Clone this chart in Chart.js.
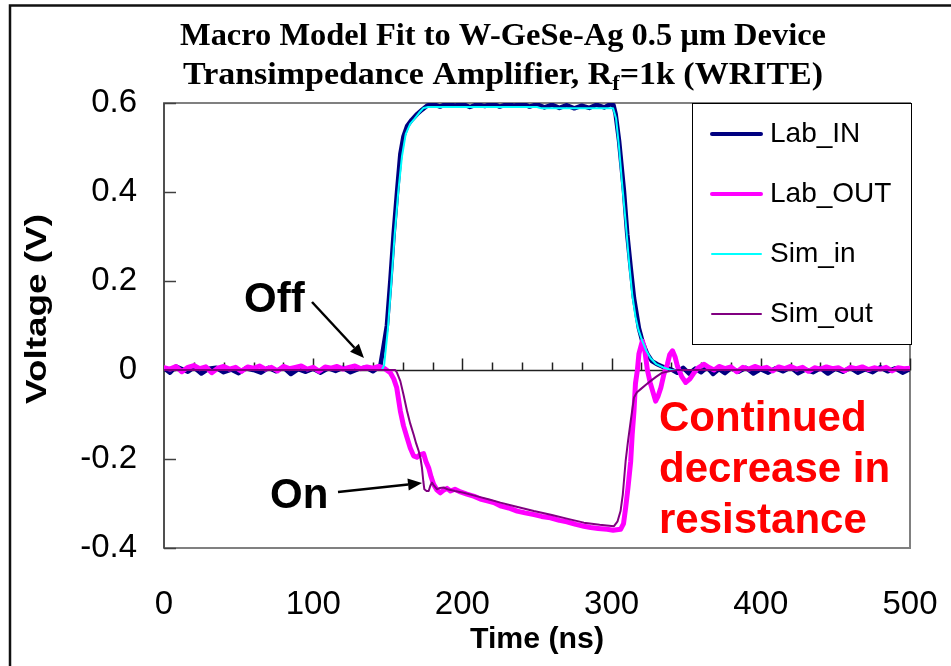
<!DOCTYPE html>
<html>
<head>
<meta charset="utf-8">
<script src="https://cdn.jsdelivr.net/npm/chart.js@4.4.1/dist/chart.umd.min.js"></script>
<style>
  html, body { margin: 0; padding: 0; background: #fff; }
  #wrap { width: 951px; height: 666px; }
</style>
</head>
<body>
<div id="wrap"><canvas id="chart" width="951" height="666"></canvas></div>
<script>
// time (ns) / voltage (V) pairs for each trace
const labInT = [0, 4, 8, 12, 16, 20, 25, 30, 35, 40, 45, 50, 55, 60, 65, 70, 75, 80, 85, 90, 95, 100, 105, 110, 115, 120, 125, 130, 135, 140, 143,
  145, 147, 149.4, 151.7, 153.9, 156.2, 158.4, 160.5, 162.9, 166, 169.6, 173, 176.3,
  180, 185, 190, 195, 200, 205, 210, 215, 220, 225, 230, 235, 240, 245, 250, 255, 260, 265, 270, 275, 280, 285, 290, 295, 299, 301.3,
  302.7, 305, 308.3, 310.5, 312.8, 315, 318.3, 321, 323.9, 327, 330.6, 335, 339.6,
  344, 348, 352, 356, 360, 364, 368, 372, 376, 380, 385, 390, 395, 400, 405, 410, 415, 420, 425, 430, 435, 440, 445, 450, 455, 460, 465, 470, 475, 480, 485, 490, 495, 500];
const labInV = [0.004, -0.006, 0.008, 0.002, -0.004, 0.006, -0.008, 0.003, 0.005, -0.005, 0.001, -0.007, 0.004, 0.000, -0.006, 0.005, -0.003, 0.006, -0.009, 0.002, -0.004, 0.003, -0.006, 0.004, -0.002, 0.005, -0.005, 0.002, 0.006, -0.003, 0.004,
  0.01, 0.05, 0.10, 0.20, 0.305, 0.40, 0.485, 0.525, 0.548, 0.562, 0.575, 0.585, 0.594,
  0.598, 0.592, 0.599, 0.594, 0.598, 0.591, 0.597, 0.593, 0.599, 0.592, 0.597, 0.594, 0.599, 0.592, 0.597, 0.590, 0.596, 0.589, 0.595, 0.588, 0.594, 0.589, 0.596, 0.590, 0.597, 0.595,
  0.575, 0.515, 0.402, 0.305, 0.230, 0.162, 0.094, 0.060, 0.036, 0.020, 0.013, 0.006, 0.002,
  -0.006, 0.005, -0.008, 0.003, -0.005, 0.006, -0.009, 0.002, -0.007, 0.004, -0.004, 0.005, -0.008, 0.002, -0.006, 0.004, -0.003, 0.006, -0.007, 0.001, -0.005, 0.004, -0.008, 0.003, -0.004, 0.005, -0.006, 0.002, -0.005, 0.006, -0.003, 0.004, -0.006, 0.002];

const labOutT = [0, 4, 8, 12, 16, 20, 24, 28, 32, 36, 40, 44, 48, 52, 56, 60, 64, 68, 72, 76, 80, 84, 88, 92, 96, 100, 104, 108, 112, 116, 120, 124, 128, 132, 136, 140, 144, 148, 151.7,
  154, 156, 158.4, 160.5, 162.9, 165, 167.3, 169.5, 171.8, 174, 175.5, 177.4, 179, 180.7, 183, 185.2, 187.5, 189.7, 192, 195, 198.7,
  203, 208, 212, 216.6, 221, 226, 231, 236.7, 242, 248, 253, 259, 265, 270, 276, 281.4, 286, 291, 297, 301, 306,
  308, 309.4, 311, 312.8, 313.8, 315, 316, 317.3, 318.3, 320.6, 322, 324, 326, 329.5, 331, 333, 335, 337.4, 339, 340.8, 342.5, 344.1, 347, 349.7, 352.5, 355.3, 358, 362, 365, 368.7,
  372, 376, 380, 384, 388, 392, 396, 400, 404, 408, 412, 416, 420, 424, 428, 432, 436, 440, 444, 448, 452, 456, 460, 464, 468, 472, 476, 480, 484, 488, 492, 496, 500];
const labOutV = [0.005, 0.002, 0.008, -0.004, 0.006, 0.010, 0.003, 0.007, -0.006, 0.004, 0.008, 0.002, 0.006, -0.003, 0.007, 0.004, 0.009, 0.002, 0.006, -0.002, 0.008, 0.003, 0.006, 0.009, 0.002, 0.006, -0.003, 0.007, 0.004, 0.008, 0.002, 0.006, 0.009, 0.003, 0.007, 0.004, 0.008, 0.003, -0.006,
  -0.020, -0.040, -0.092, -0.125, -0.152, -0.175, -0.193, -0.196, -0.190, -0.188, -0.205, -0.220, -0.240, -0.257, -0.270, -0.276, -0.270, -0.266, -0.272, -0.268, -0.274,
  -0.279, -0.284, -0.290, -0.294, -0.298, -0.306, -0.310, -0.317, -0.321, -0.325, -0.329, -0.332, -0.338, -0.341, -0.347, -0.351, -0.354, -0.356, -0.358, -0.360, -0.358,
  -0.345, -0.310, -0.264, -0.205, -0.145, -0.092, -0.030, 0.000, 0.036, 0.065, 0.050, 0.000, -0.030, -0.070, -0.060, -0.040, -0.010, 0.013, 0.035, 0.043, 0.030, 0.009, -0.015, -0.028, -0.020, -0.006, 0.005, 0.013, 0.006, 0.000,
  0.008, 0.003, 0.007, -0.004, 0.006, 0.002, 0.008, 0.003, 0.006, -0.002, 0.007, 0.003, 0.008, 0.002, 0.006, -0.003, 0.005, 0.002, 0.007, 0.003, 0.005, -0.002, 0.006, 0.003, 0.007, 0.001, 0.005, 0.002, 0.006, -0.002, 0.005, 0.003, 0.004];

const simInT = [0, 146, 147.5, 150, 152, 154.5, 157, 159.5, 162, 165, 168, 171, 174, 177, 250, 253, 301,
  303, 305, 307, 309.5, 311.5, 313.8, 316, 318, 320.6, 323, 326, 330, 335, 340, 500];
const simInV = [0, 0, 0.01, 0.09, 0.18, 0.30, 0.40, 0.48, 0.53, 0.553, 0.565, 0.578, 0.589, 0.591, 0.591, 0.588, 0.588,
  0.565, 0.50, 0.42, 0.33, 0.25, 0.17, 0.12, 0.09, 0.065, 0.045, 0.027, 0.013, 0.005, 0, 0];

const simOutT = [0, 155, 156, 158.4, 160.5, 162.9, 165, 167.3, 169, 170.7, 172, 172.9, 173.8, 174.5, 176, 177.4, 178.5, 179.6, 181, 183, 185, 187.5, 190, 195, 200.9,
  210, 218, 225.5, 235, 247.9, 260, 270, 281.4, 292, 301.6,
  304, 306, 307.5, 309.4, 311, 312.8, 315, 317, 319.5, 323, 326, 330, 334, 340, 344, 500];
const simOutV = [0, 0, -0.005, -0.025, -0.055, -0.092, -0.120, -0.145, -0.165, -0.182, -0.200, -0.220, -0.250, -0.268, -0.272, -0.272, -0.260, -0.253, -0.260, -0.268, -0.265, -0.264, -0.268, -0.272, -0.276,
  -0.284, -0.291, -0.298, -0.306, -0.317, -0.326, -0.334, -0.343, -0.348, -0.351,
  -0.340, -0.317, -0.280, -0.205, -0.160, -0.115, -0.062, -0.050, -0.043, -0.033, -0.025, -0.015, -0.006, -0.002, 0, 0];

const seriesNames = ['Lab_IN', 'Lab_OUT', 'Sim_in', 'Sim_out'];
const seriesColors = ['#000080', '#FF00FF', '#00FFFF', '#800080'];
const seriesWidths = [4.5, 5, 2, 2];
const legendWidths = [4, 4, 2, 2];

const xTicks = [0, 100, 200, 300, 400, 500];
const yTicks = [-0.4, -0.2, 0, 0.2, 0.4, 0.6];

function pairs(t, v) {
  return t.map((x, i) => ({ x: x, y: v[i] }));
}

const allT = [labInT, labOutT, simInT, simOutT];
const allV = [labInV, labOutV, simInV, simOutV];

// Lab_IN sits lowest, Sim_out on top
const datasets = seriesNames.map((name, i) => ({
  label: name,
  data: pairs(allT[i], allV[i]),
  borderColor: seriesColors[i],
  backgroundColor: seriesColors[i],
  borderWidth: seriesWidths[i],
  pointRadius: 0,
  tension: 0,
  fill: false,
  borderJoinStyle: 'round',
  borderCapStyle: 'round',
  order: 4 - i
}));

function arrow(ctx, x1, y1, x2, y2) {
  const a = Math.atan2(y2 - y1, x2 - x1);
  const hl = 14, hw = 6;
  ctx.beginPath();
  ctx.moveTo(x1, y1);
  ctx.lineTo(x2 - hl * Math.cos(a), y2 - hl * Math.sin(a));
  ctx.stroke();
  ctx.beginPath();
  ctx.moveTo(x2, y2);
  ctx.lineTo(x2 - hl * Math.cos(a) + hw * Math.sin(a), y2 - hl * Math.sin(a) - hw * Math.cos(a));
  ctx.lineTo(x2 - hl * Math.cos(a) - hw * Math.sin(a), y2 - hl * Math.sin(a) + hw * Math.cos(a));
  ctx.closePath();
  ctx.fill();
}

// draw centred text squeezed or stretched to a given length
function fitText(ctx, text, cx, y, width) {
  const w = ctx.measureText(text).width;
  ctx.save();
  ctx.translate(cx, y);
  ctx.scale(width / w, 1);
  ctx.textAlign = 'center';
  ctx.fillText(text, 0, 0);
  ctx.restore();
}

const SERIF = '"Liberation Serif", "Times New Roman", serif';
const SANS = '"Liberation Sans", Arial, sans-serif';

const decorations = {
  id: 'decorations',
  beforeDatasetsDraw(chart) {
    const ctx = chart.ctx;
    const a = chart.chartArea;
    const xs = chart.scales.x, ys = chart.scales.y;
    ctx.save();
    // plot frame
    ctx.strokeStyle = '#808080';
    ctx.lineWidth = 2;
    ctx.strokeRect(a.left, a.top, a.right - a.left, a.bottom - a.top);
    ctx.strokeStyle = '#404040';
    ctx.lineWidth = 1.5;
    ctx.beginPath();
    ctx.moveTo(a.left, a.top);
    ctx.lineTo(a.left, a.bottom);
    ctx.stroke();
    // y ticks pointing inward
    ys.ticks.forEach(t => {
      const py = Math.round(ys.getPixelForValue(t.value)) + 0.5;
      ctx.beginPath();
      ctx.moveTo(a.left, py);
      ctx.lineTo(a.left + 12, py);
      ctx.stroke();
    });
    // time axis along V = 0
    const y0 = Math.round(ys.getPixelForValue(0)) + 0.5;
    ctx.strokeStyle = '#202020';
    ctx.lineWidth = 1.5;
    ctx.beginPath();
    ctx.moveTo(a.left, y0);
    ctx.lineTo(a.right, y0);
    ctx.stroke();
    for (let t = 20; t <= 500; t += 20) {
      const px = Math.round(xs.getPixelForValue(t)) + 0.5;
      const len = t % 100 === 0 ? 12 : 8;
      ctx.beginPath();
      ctx.moveTo(px, y0);
      ctx.lineTo(px, y0 - len);
      ctx.stroke();
    }
    ctx.restore();
  },
  afterDraw(chart) {
    const ctx = chart.ctx;
    const a = chart.chartArea;
    ctx.save();

    // outer frame
    ctx.strokeStyle = '#111';
    ctx.lineWidth = 2.5;
    ctx.beginPath();
    ctx.moveTo(951, 5.5);
    ctx.lineTo(10, 5.5);
    ctx.lineTo(10, 666);
    ctx.stroke();

    // title, narrow bold serif
    ctx.fillStyle = '#000';
    ctx.textBaseline = 'alphabetic';
    ctx.font = 'bold 32px ' + SERIF;
    fitText(ctx, 'Macro Model Fit to W-GeSe-Ag 0.5 \u00b5m Device', 503, 45, 646);
    const p1 = 'Transimpedance Amplifier, R', p2 = 'f', p3 = '=1k (WRITE)';
    const w1 = ctx.measureText(p1).width, w3 = ctx.measureText(p3).width;
    ctx.font = 'bold 21px ' + SERIF;
    const w2 = ctx.measureText(p2).width;
    const sx = 640 / (w1 + w2 + w3);
    ctx.save();
    ctx.translate(503 - 320, 84);
    ctx.scale(sx, 1);
    ctx.textAlign = 'left';
    ctx.font = 'bold 32px ' + SERIF;
    ctx.fillText(p1, 0, 0);
    ctx.font = 'bold 21px ' + SERIF;
    ctx.fillText(p2, w1, 6);
    ctx.font = 'bold 32px ' + SERIF;
    ctx.fillText(p3, w1 + w2, 0);
    ctx.restore();

    // axis titles
    ctx.font = 'bold 29px ' + SANS;
    ctx.textBaseline = 'middle';
    fitText(ctx, 'Time (ns)', (a.left + a.right) / 2, 640, 134);
    ctx.save();
    ctx.translate(38, 309);
    ctx.rotate(-Math.PI / 2);
    fitText(ctx, 'Voltage (V)', 0, 0, 190);
    ctx.restore();

    // legend
    const lx = 692, ly = 103, lw = 219, lh = 241;
    ctx.fillStyle = '#fff';
    ctx.fillRect(lx, ly, lw, lh);
    ctx.strokeStyle = '#000';
    ctx.lineWidth = 1;
    ctx.strokeRect(lx + 0.5, ly + 0.5, lw, lh);
    ctx.font = '28px ' + SANS;
    ctx.textAlign = 'left';
    chart.data.datasets.forEach((ds, i) => {
      const yy = 134 + i * 60;
      ctx.strokeStyle = ds.borderColor;
      ctx.lineWidth = legendWidths[i];
      ctx.lineCap = 'round';
      ctx.beginPath();
      ctx.moveTo(712, yy);
      ctx.lineTo(761, yy);
      ctx.stroke();
      ctx.fillStyle = '#000';
      ctx.fillText(ds.label, 770, yy);
    });

    // annotations
    ctx.fillStyle = '#000';
    ctx.strokeStyle = '#000';
    ctx.lineWidth = 2.5;
    ctx.lineCap = 'butt';
    ctx.font = 'bold 42px ' + SANS;
    ctx.textBaseline = 'alphabetic';
    ctx.fillText('Off', 244, 312);
    arrow(ctx, 312, 302, 364, 358);
    ctx.fillText('On', 270, 508);
    arrow(ctx, 338, 492, 422, 483);

    ctx.fillStyle = '#FF0000';
    ctx.fillText('Continued', 659, 431);
    ctx.fillText('decrease in', 659, 482);
    ctx.fillText('resistance', 659, 533);
    ctx.restore();
  }
};

const chart = new Chart(document.getElementById('chart'), {
  type: 'line',
  data: { datasets: datasets },
  options: {
    responsive: false,
    animation: false,
    layout: { padding: { left: 0, top: 103, right: 41, bottom: 0 } },
    plugins: {
      legend: { display: false },
      title: { display: false },
      tooltip: { enabled: false }
    },
    scales: {
      x: {
        type: 'linear',
        min: 0,
        max: 500,
        afterBuildTicks: s => { s.ticks = xTicks.map(v => ({ value: v })); },
        afterFit: s => { s.height = 118; s.paddingLeft = 0; s.paddingRight = 0; },
        grid: { display: false, drawTicks: false },
        border: { display: false },
        ticks: {
          color: '#000',
          padding: 37,
          maxRotation: 0,
          font: { family: SANS, size: 33 }
        }
      },
      y: {
        min: -0.4,
        max: 0.6,
        afterBuildTicks: s => { s.ticks = yTicks.map(v => ({ value: v })); },
        afterFit: s => { s.width = 164; s.paddingTop = 0; s.paddingBottom = 0; },
        grid: { display: false, drawTicks: false },
        border: { display: false },
        ticks: {
          color: '#000',
          padding: 27,
          callback: v => (Math.abs(v) < 1e-9 ? '0' : v.toFixed(1)),
          font: { family: SANS, size: 33 }
        }
      }
    }
  },
  plugins: [decorations]
});
</script>
</body>
</html>
